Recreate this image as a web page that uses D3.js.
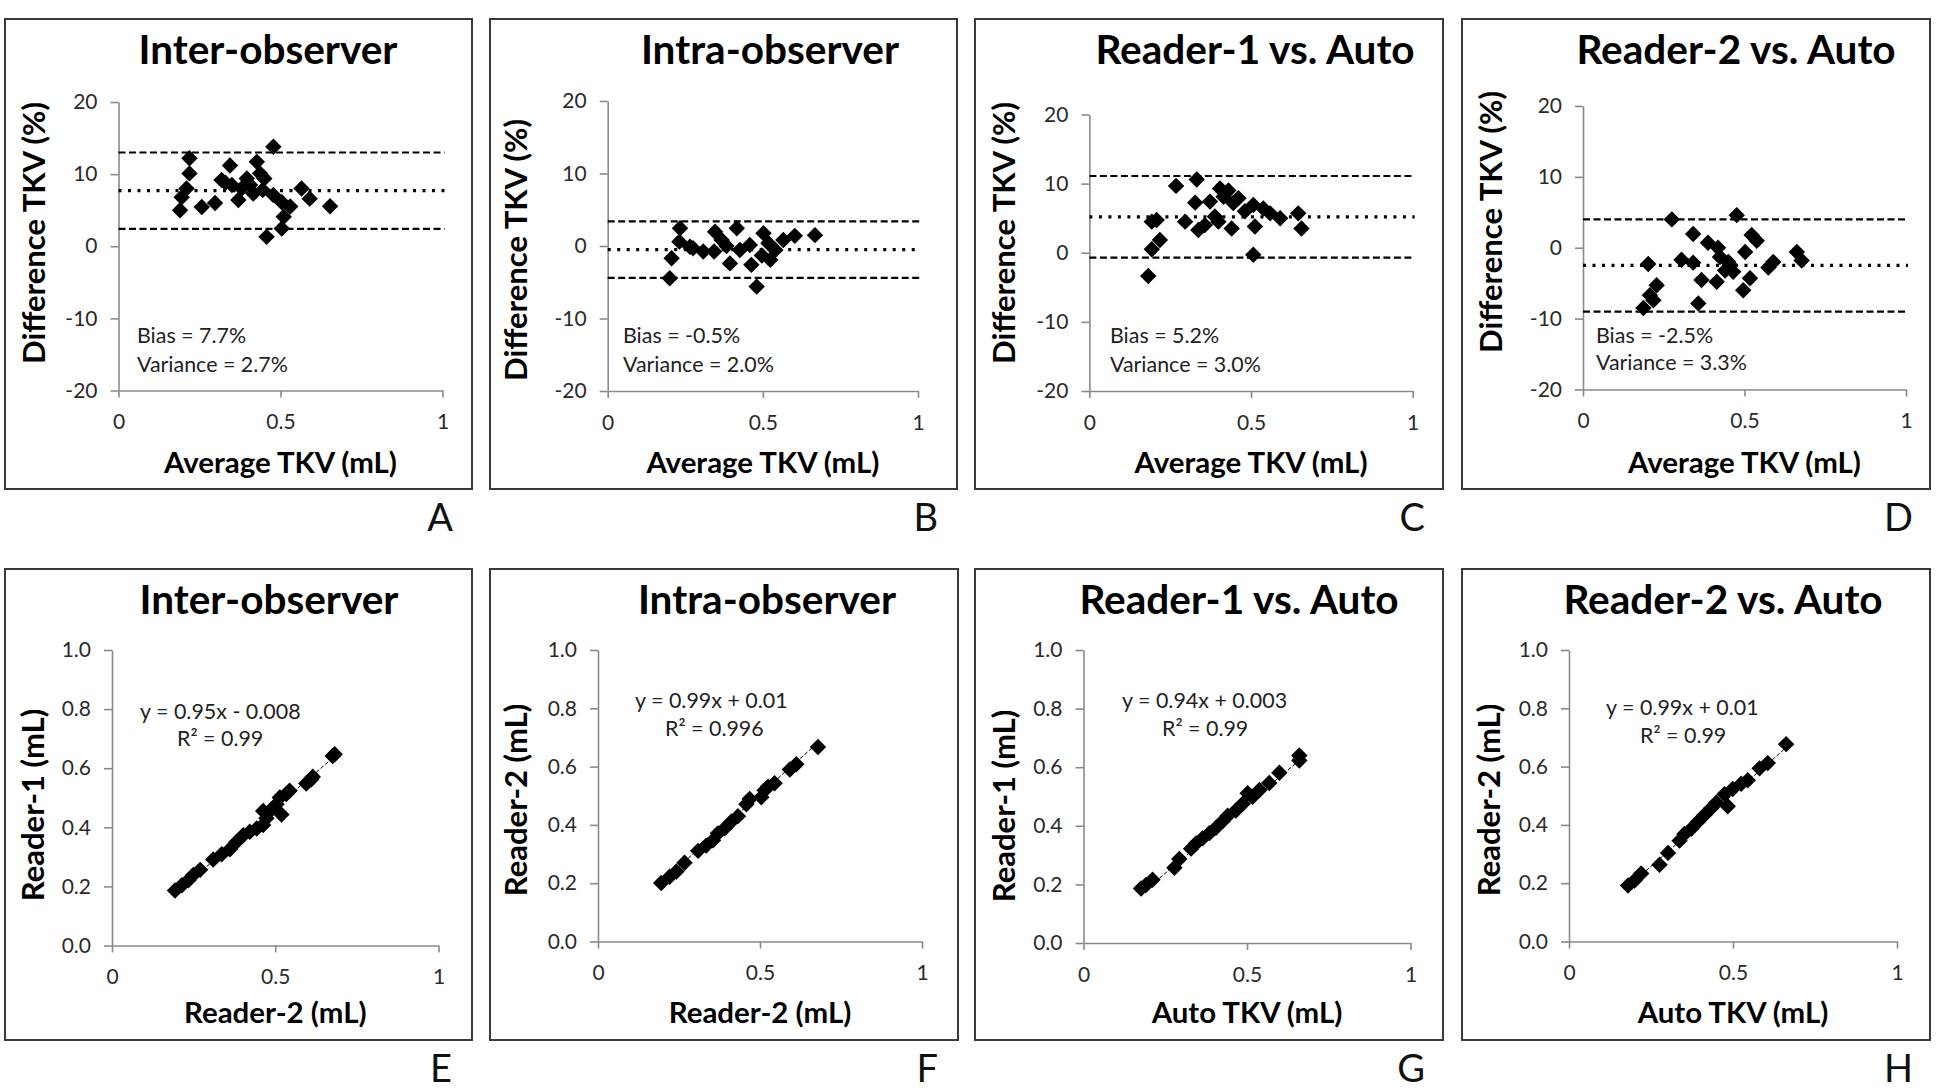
<!DOCTYPE html>
<html><head><meta charset="utf-8">
<script src="https://cdn.jsdelivr.net/npm/d3@7"></script>
<style>html,body{margin:0;padding:0;background:#fff}svg{display:block}</style>
</head><body>
<script>
// ---------------- DATA ----------------
const titles = ["Inter-observer", "Intra-observer", "Reader-1 vs. Auto", "Reader-2 vs. Auto"];
const topLetters = ["A", "B", "C", "D"];
const bottomLetters = ["E", "F", "G", "H"];
const baXLabel = "Average TKV (mL)";
const baYLabel = "Difference TKV (%)";
const corrXLabels = ["Reader-2 (mL)", "Reader-2 (mL)", "Auto TKV (mL)", "Auto TKV (mL)"];
const corrYLabels = ["Reader-1 (mL)", "Reader-2 (mL)", "Reader-1 (mL)", "Reader-2 (mL)"];
const biasPct = [7.7, -0.5, 5.2, -2.5];
const variancePct = [2.7, 2.0, 3.0, 3.3];
const loaUpper = [13.0, 3.4, 11.1, 4.0];
const loaLower = [2.4, -4.4, -0.7, -9.0];
const slopes = [0.95, 0.99, 0.94, 0.99];
const intercepts = [-0.008, 0.01, 0.003, 0.01];
const eqLabels = ["y = 0.95x - 0.008", "y = 0.99x + 0.01", "y = 0.94x + 0.003", "y = 0.99x + 0.01"];
const r2Labels = ["R² = 0.99", "R² = 0.996", "R² = 0.99", "R² = 0.99"];
const xTicks = [0, 0.5, 1];
const xTickLabels = ["0", "0.5", "1"];
const baYTicks = [-20, -10, 0, 10, 20];
const baYTickLabels = ["-20", "-10", "0", "10", "20"];
const corrYTicks = [0, 0.2, 0.4, 0.6, 0.8, 1.0];
const corrYTickLabels = ["0.0", "0.2", "0.4", "0.6", "0.8", "1.0"];

// Bland-Altman: [average TKV, difference %]
const baInter = [[0.478,13.8],[0.219,12.2],[0.219,10.1],[0.21,8.0],[0.195,6.8],[0.19,5.0],[0.257,5.45],[0.298,6.0],
  [0.344,11.2],[0.318,9.2],[0.35,8.5],[0.37,6.4],[0.396,9.4],[0.38,8.0],[0.427,11.7],[0.437,10.1],[0.45,9.4],
  [0.445,7.8],[0.478,7.1],[0.504,6.1],[0.53,5.5],[0.51,4.1],[0.504,2.45],[0.457,1.3],[0.565,8.0],[0.59,6.6],
  [0.653,5.55],[0.406,8.5],[0.416,7.3],[0.33,8.8]];
const baIntra = [[0.233,2.44],[0.231,0.6],[0.206,-1.7],[0.2,-4.46],[0.265,-0.1],[0.308,-0.76],[0.346,1.97],
  [0.367,0.83],[0.343,-0.76],[0.416,2.44],[0.394,-2.4],[0.426,-0.55],[0.458,0.14],[0.463,-2.6],[0.48,-5.6],
  [0.502,1.75],[0.518,0.37],[0.524,-1.9],[0.497,-1.3],[0.566,0.83],[0.603,1.4],[0.668,1.5],[0.54,-0.55],
  [0.383,0.0],[0.275,-0.3]];
const baR1Auto = [[0.332,10.6],[0.268,9.67],[0.327,7.25],[0.208,4.75],[0.193,4.5],[0.218,1.85],[0.193,0.5],
  [0.182,-3.36],[0.296,4.5],[0.337,3.3],[0.373,7.4],[0.404,9.3],[0.43,9.0],[0.388,5.24],[0.357,4.0],[0.44,3.5],
  [0.461,7.9],[0.481,6.0],[0.507,6.9],[0.512,3.8],[0.507,-0.3],[0.559,5.7],[0.59,5.0],[0.646,5.7],[0.656,3.5],
  [0.415,8.1],[0.445,7.2],[0.538,6.4],[0.399,4.5]];
const baR2Auto = [[0.275,4.0],[0.476,4.6],[0.341,1.93],[0.387,0.7],[0.418,0.0],[0.522,1.8],[0.538,1.0],
  [0.502,-0.6],[0.202,-2.3],[0.305,-1.7],[0.341,-2.1],[0.45,-2.0],[0.465,-3.4],[0.44,-3.2],[0.367,-4.55],
  [0.414,-4.8],[0.517,-4.3],[0.496,-6.0],[0.589,-2.0],[0.574,-2.8],[0.662,-0.6],[0.677,-1.8],[0.228,-5.3],
  [0.207,-6.7],[0.218,-7.4],[0.187,-8.5],[0.357,-7.85],[0.424,-1.3],[0.455,-2.45]];

// Correlation: [x, y] in mL
const corrInter = [[0.193,0.186],[0.214,0.204],[0.234,0.221],[0.249,0.239],[0.27,0.256],[0.31,0.291],[0.336,0.309],
  [0.361,0.326],[0.381,0.35],[0.402,0.373],[0.422,0.385],[0.443,0.396],[0.463,0.408],[0.473,0.431],[0.463,0.455],
  [0.488,0.46],[0.504,0.478],[0.519,0.443],[0.514,0.501],[0.534,0.513],[0.544,0.524],[0.595,0.548],[0.61,0.562],
  [0.615,0.571],[0.676,0.641],[0.682,0.647]];
const corrIntra = [[0.195,0.201],[0.221,0.222],[0.242,0.24],[0.267,0.27],[0.309,0.311],[0.334,0.329],[0.355,0.347],
  [0.37,0.371],[0.391,0.388],[0.412,0.412],[0.432,0.43],[0.458,0.471],[0.468,0.489],[0.504,0.495],[0.514,0.519],
  [0.525,0.531],[0.545,0.543],[0.592,0.59],[0.612,0.608],[0.679,0.667]];
const corrR1Auto = [[0.176,0.186],[0.191,0.198],[0.211,0.216],[0.278,0.257],[0.293,0.287],[0.329,0.322],[0.344,0.34],
  [0.364,0.357],[0.385,0.375],[0.405,0.393],[0.426,0.416],[0.441,0.434],[0.466,0.452],[0.487,0.475],[0.502,0.511],
  [0.517,0.499],[0.538,0.522],[0.568,0.546],[0.599,0.581],[0.66,0.64],[0.66,0.623]];
const corrR2Auto = [[0.18,0.192],[0.2,0.209],[0.22,0.233],[0.276,0.263],[0.302,0.304],[0.337,0.346],[0.352,0.369],
  [0.373,0.387],[0.393,0.411],[0.413,0.434],[0.434,0.458],[0.449,0.476],[0.484,0.464],[0.474,0.505],[0.499,0.523],
  [0.525,0.541],[0.545,0.553],[0.581,0.594],[0.606,0.612],[0.662,0.677]];

const baSets = [baInter, baIntra, baR1Auto, baR2Auto];
const corrSets = [corrInter, corrIntra, corrR1Auto, corrR2Auto];

// ---------------- LAYOUT ----------------
const topLayout = [
  {box:[5,19,467,470], plot:[118.5,442.5,102,390.5], titleX:268, yTitle:[33,233], ann:[137,342.6,371.8], letterX:453},
  {box:[490,19,467,470], plot:[607.7,918,101,391], titleX:770, yTitle:[515,250], ann:[623,342.6,371.8], letterX:938},
  {box:[975,19,468,470], plot:[1089.4,1412.7,114.5,391], titleX:1255, yTitle:[1003,233], ann:[1110,342.6,371.8], letterX:1425},
  {box:[1462,19,468,470], plot:[1583,1906,106,389.5], titleX:1736, yTitle:[1490,222], ann:[1596,342.6,370], letterX:1913}
];
const bottomLayout = [
  {box:[5,569,467,471], plot:[112,438.5,650,945.5], titleX:269, yTitle:[32,805], ann:[140,718.7,177,746], letterX:452},
  {box:[490,569,468,471], plot:[598,922,650,941.5], titleX:767, yTitle:[515,800], ann:[635,708,665,736], letterX:938},
  {box:[975,569,468,471], plot:[1083.5,1410.5,650,943], titleX:1239, yTitle:[1003,806], ann:[1122,708,1162,736], letterX:1425},
  {box:[1462,569,468,471], plot:[1569,1897,650,941.5], titleX:1723, yTitle:[1488,800], ann:[1606,715,1640,743], letterX:1913}
];
const FONT = "Lato, 'Open Sans', sans-serif";
const AXIS_GREY = "#8a8a8a";
const TEXT_DARK = "#222";

const svg = d3.select("body").append("svg").attr("width", 1950).attr("height", 1090);

// font-size fitting helper (makes the substitute font occupy the same width)
function fitSize(text, weight, target) {
  const t = svg.append("text").attr("font-family", FONT).attr("font-weight", weight)
    .attr("font-size", 40).text(text);
  const w = t.node().getComputedTextLength();
  t.remove();
  return 40 * target / w;
}
const titleSize = fitSize("Inter-observer", 700, 259);
const axisTitleSize = fitSize("Average TKV (mL)", 700, 233);
const yTitleSize = fitSize("Difference TKV (%)", 700, 262);
const annSize = fitSize("Variance = 2.7%", 400, 151);
const tickSize = 21;
const letterSize = 38;

const diamond = d3.symbol().type(d3.symbolSquare).size(135);

function styleAxis(g) {
  g.select(".domain").attr("stroke", AXIS_GREY).attr("stroke-width", 1.6);
  g.selectAll(".tick line").attr("stroke", AXIS_GREY).attr("stroke-width", 1.6);
  g.selectAll(".tick text").attr("fill", "#2a2a2a").attr("font-size", tickSize).attr("font-family", FONT);
}
const labeler = (vals, labels) => d => labels[vals.indexOf(d)];

function panelFrame(L, title, letter, xLabel, yLabel) {
  const g = svg.append("g");
  g.append("rect").attr("x", L.box[0]).attr("y", L.box[1]).attr("width", L.box[2]).attr("height", L.box[3])
    .attr("fill", "none").attr("stroke", "#3a3a3a").attr("stroke-width", 2);
  g.append("text").attr("x", L.titleX).attr("y", L.box[1] + 45).attr("text-anchor", "middle")
    .attr("font-family", FONT).attr("font-weight", 700).attr("font-size", titleSize).attr("fill", "#000").text(title);
  const [x0, x1] = [L.plot[0], L.plot[1]];
  g.append("text").attr("x", (x0 + x1) / 2).attr("y", L.box[1] + 454).attr("text-anchor", "middle")
    .attr("font-family", FONT).attr("font-weight", 700).attr("font-size", axisTitleSize).attr("fill", "#000").text(xLabel);
  g.append("text").attr("transform", `translate(${L.yTitle[0]},${L.yTitle[1]}) rotate(-90)`)
    .attr("text-anchor", "middle").attr("dominant-baseline", "central")
    .attr("font-family", FONT).attr("font-weight", 700).attr("font-size", yTitleSize).attr("fill", "#000").text(yLabel);
  g.append("text").attr("x", L.letterX).attr("y", L.box[1] + L.box[3] + 42).attr("text-anchor", "end")
    .attr("font-family", FONT).attr("font-size", letterSize).attr("fill", "#111").text(letter);
  return g;
}

// ---------------- TOP ROW: Bland-Altman ----------------
topLayout.forEach((L, i) => {
  const g = panelFrame(L, titles[i], topLetters[i], baXLabel, baYLabel);
  const x = d3.scaleLinear().domain([0, 1]).range([L.plot[0], L.plot[1]]);
  const y = d3.scaleLinear().domain([-20, 20]).range([L.plot[3], L.plot[2]]);
  const gx = g.append("g").attr("transform", `translate(0,${y(-20)})`)
    .call(d3.axisBottom(x).tickValues(xTicks).tickFormat(labeler(xTicks, xTickLabels)).tickSizeInner(7).tickSizeOuter(0).tickPadding(17));
  styleAxis(gx);
  const gy = g.append("g").attr("transform", `translate(${x(0)},0)`)
    .call(d3.axisLeft(y).tickValues(baYTicks).tickFormat(labeler(baYTicks, baYTickLabels)).tickSizeInner(8).tickSizeOuter(0).tickPadding(13));
  styleAxis(gy);
  // limit-of-agreement and bias lines
  const lines = [
    {v: loaUpper[i], dash: "7,3.5", w: 2.2},
    {v: biasPct[i], dash: "3,6.5", w: 3.2},
    {v: loaLower[i], dash: "7,3.5", w: 2.2}
  ];
  g.selectAll(".ref").data(lines).join("line")
    .attr("x1", x(0)).attr("x2", x(1) + 2)
    .attr("y1", d => y(d.v)).attr("y2", d => y(d.v))
    .attr("stroke", "#000").attr("stroke-width", d => d.w).attr("stroke-dasharray", d => d.dash);
  g.selectAll(".pt").data(baSets[i]).join("path")
    .attr("d", diamond)
    .attr("transform", d => `translate(${x(d[0])},${y(d[1])}) rotate(45)`)
    .attr("fill", "#000");
  g.append("text").attr("x", L.ann[0]).attr("y", L.ann[1]).attr("font-family", FONT).attr("font-size", annSize)
    .attr("fill", TEXT_DARK).text(`Bias = ${biasPct[i].toFixed(1)}%`);
  g.append("text").attr("x", L.ann[0]).attr("y", L.ann[2]).attr("font-family", FONT).attr("font-size", annSize)
    .attr("fill", TEXT_DARK).text(`Variance = ${variancePct[i].toFixed(1)}%`);
});

// ---------------- BOTTOM ROW: correlation ----------------
bottomLayout.forEach((L, i) => {
  const g = panelFrame(L, titles[i], bottomLetters[i], corrXLabels[i], corrYLabels[i]);
  const x = d3.scaleLinear().domain([0, 1]).range([L.plot[0], L.plot[1]]);
  const y = d3.scaleLinear().domain([0, 1]).range([L.plot[3], L.plot[2]]);
  const gx = g.append("g").attr("transform", `translate(0,${y(0)})`)
    .call(d3.axisBottom(x).tickValues(xTicks).tickFormat(labeler(xTicks, xTickLabels)).tickSizeInner(7).tickSizeOuter(0).tickPadding(17));
  styleAxis(gx);
  const gy = g.append("g").attr("transform", `translate(${x(0)},0)`)
    .call(d3.axisLeft(y).tickValues(corrYTicks).tickFormat(labeler(corrYTicks, corrYTickLabels)).tickSizeInner(8).tickSizeOuter(0).tickPadding(13));
  styleAxis(gy);
  const pts = corrSets[i];
  const ext = d3.extent(pts, d => d[0]);
  g.append("line")
    .attr("x1", x(ext[0])).attr("y1", y(slopes[i] * ext[0] + intercepts[i]))
    .attr("x2", x(ext[1])).attr("y2", y(slopes[i] * ext[1] + intercepts[i]))
    .attr("stroke", "#000").attr("stroke-width", 1).attr("stroke-dasharray", "4,2");
  g.selectAll(".pt").data(pts).join("path")
    .attr("d", diamond)
    .attr("transform", d => `translate(${x(d[0])},${y(d[1])}) rotate(45)`)
    .attr("fill", "#000");
  g.append("text").attr("x", L.ann[0]).attr("y", L.ann[1]).attr("font-family", FONT).attr("font-size", annSize)
    .attr("fill", TEXT_DARK).text(eqLabels[i]);
  g.append("text").attr("x", L.ann[2]).attr("y", L.ann[3]).attr("font-family", FONT).attr("font-size", annSize)
    .attr("fill", TEXT_DARK).text(r2Labels[i]);
});
</script>
</body></html>
